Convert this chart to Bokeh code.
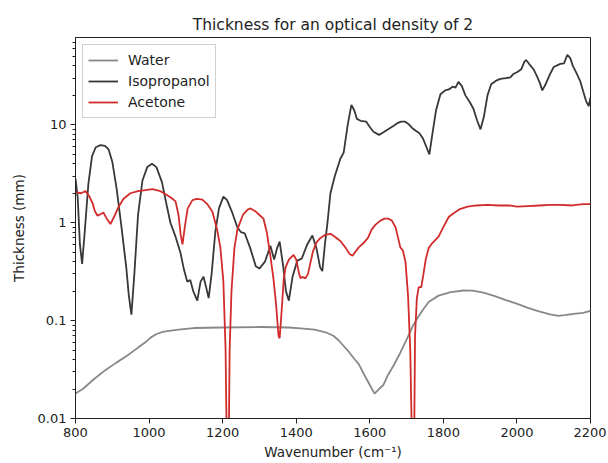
from bokeh.plotting import figure
from bokeh.models import Range1d, FixedTicker, CustomJSTickFormatter, Legend, LegendItem
from bokeh.embed import file_html
from bokeh.resources import INLINE

# ---- data ----
iso_x = [800, 806, 812, 818, 825, 835, 845, 855, 868, 880, 890, 900, 912, 925, 938, 945, 952, 960, 970, 982,
         995, 1008, 1020, 1035, 1048, 1058, 1072, 1085, 1095, 1104, 1112, 1120, 1131, 1140, 1148, 1155, 1162,
         1170, 1180, 1190, 1202, 1212, 1225, 1240, 1250, 1260, 1275, 1290, 1300, 1315, 1330, 1340, 1348, 1355,
         1365, 1372, 1380, 1390, 1403, 1415, 1430, 1444, 1455, 1465, 1471, 1478, 1485, 1493, 1505, 1520, 1529,
         1540, 1550, 1558, 1565, 1575, 1590, 1600, 1610, 1625, 1635, 1650, 1665, 1675, 1685, 1695, 1705, 1715,
         1725, 1735, 1745, 1755, 1762, 1770, 1780, 1792, 1805, 1815, 1825, 1833, 1841, 1850, 1860, 1872, 1882,
         1892, 1901, 1910, 1920, 1930, 1945, 1955, 1970, 1982, 1990, 2000, 2012, 2020, 2025, 2033, 2045, 2055,
         2062, 2069, 2078, 2090, 2100, 2118, 2128, 2137, 2145, 2152, 2160, 2172, 2180, 2188, 2195, 2200]
iso_y = [2.8, 1.8, 0.6, 0.38, 0.8, 2.5, 4.8, 5.9, 6.2, 6.1, 5.6, 4.2, 2.2, 0.9, 0.35, 0.18, 0.115, 0.3, 1.2, 2.7,
         3.7, 4.0, 3.7, 2.6, 1.5, 1.0, 0.72, 0.5, 0.33, 0.25, 0.26, 0.2, 0.16, 0.25, 0.28, 0.22, 0.17,
         0.3, 0.8, 1.4, 1.85, 1.7, 1.3, 0.9, 0.8, 0.78, 0.55, 0.36, 0.34, 0.4, 0.58, 0.42, 0.55, 0.64,
         0.35, 0.2, 0.16, 0.28, 0.41, 0.43, 0.6, 0.74, 0.55, 0.35, 0.32, 0.6, 1.0, 2.0, 3.0, 4.5, 5.2,
         10, 16, 14, 11.5, 11, 10.8, 9.5, 8.5, 7.9, 8.3, 9.0, 9.8, 10.4, 10.8, 10.8, 10.2, 9.3,
         8.7, 8.2, 7.2, 5.8, 5.0, 8, 14, 20.5, 22.5, 23, 24.5, 24, 27.5, 25, 20, 17, 14.5,
         11, 9.0, 12, 20, 26, 28.5, 29.5, 30, 30.5, 33, 34.5, 37, 44, 46, 42, 37, 31,
         27, 22.5, 26, 33, 39, 42, 42.5, 52, 48, 40, 35, 28, 22, 17.5, 15.5, 19]

ace_x = [800, 815, 827, 836, 846, 853, 860, 868, 876, 885, 895, 905, 917, 930, 949, 970, 990, 1009, 1020, 1031,
         1045, 1060, 1072, 1080, 1086, 1091, 1097, 1105, 1118, 1130, 1145, 1158, 1172, 1185, 1194, 1202, 1208,
         1212, 1216, 1219, 1224, 1232, 1240, 1255, 1268, 1276, 1290, 1300, 1311, 1320, 1330, 1338, 1345, 1352,
         1355, 1360, 1366, 1371, 1380, 1393, 1400, 1408, 1412, 1417, 1425, 1432, 1445, 1455, 1466, 1478, 1493,
         1505, 1520, 1535, 1545, 1553, 1560, 1570, 1583, 1595, 1605, 1615, 1629, 1640, 1651, 1660, 1670, 1677,
         1683, 1690, 1697, 1704, 1710, 1716, 1720, 1723, 1728, 1733, 1740, 1746, 1752, 1760, 1770, 1787, 1800,
         1815, 1828, 1845, 1866, 1890, 1920, 1950, 1980, 2000, 2030, 2060, 2091, 2120, 2150, 2180, 2200]
ace_y = [2.05, 2.0, 2.1, 1.9, 1.6, 1.3, 1.18, 1.22, 1.27, 1.1, 0.97, 1.15, 1.45, 1.75, 2.0, 2.1, 2.15, 2.2, 2.15, 2.1,
         1.95, 1.8, 1.65, 1.2, 0.75, 0.6, 0.9, 1.4, 1.7, 1.75, 1.72, 1.55, 1.3, 0.85, 0.55, 0.25, 0.05,
         0.003, 0.003, 0.05, 0.2, 0.55, 0.85, 1.2, 1.36, 1.4, 1.3, 1.2, 1.1, 0.8, 0.45, 0.27, 0.15, 0.07,
         0.066, 0.12, 0.26, 0.35, 0.42, 0.47, 0.42, 0.3, 0.27, 0.28, 0.27, 0.3, 0.5, 0.63, 0.7, 0.75, 0.77,
         0.72, 0.65, 0.55, 0.48, 0.46, 0.5, 0.56, 0.62, 0.7, 0.85, 0.95, 1.05, 1.1, 1.1, 1.05, 0.9, 0.7,
         0.56, 0.52, 0.4, 0.18, 0.05, 0.003, 0.003, 0.07, 0.17, 0.22, 0.22, 0.3, 0.42, 0.55, 0.62, 0.72, 0.9,
         1.15, 1.25, 1.38, 1.46, 1.5, 1.52, 1.5, 1.5, 1.46, 1.48, 1.5, 1.52, 1.52, 1.5, 1.55, 1.55]

wat_x = [800, 820, 849, 880, 910, 941, 970, 990, 1004, 1020, 1040, 1080, 1121, 1200, 1303, 1380, 1420, 1450,
         1480, 1501, 1515, 1529, 1545, 1557, 1570, 1585, 1600, 1613, 1625, 1637, 1650, 1665, 1683, 1700, 1715,
         1730, 1745, 1760, 1787, 1820, 1855, 1880, 1909, 1940, 1970, 2001, 2030, 2060, 2090, 2113, 2130, 2154,
         2180, 2200]
wat_y = [0.018, 0.02, 0.025, 0.031, 0.037, 0.044, 0.053, 0.06, 0.067, 0.073, 0.077, 0.081, 0.084, 0.085, 0.086,
         0.085, 0.083, 0.081, 0.076, 0.07, 0.063, 0.055, 0.047, 0.041, 0.036, 0.028, 0.022, 0.018, 0.02, 0.022,
         0.028, 0.035, 0.047, 0.064, 0.085, 0.107, 0.13, 0.155, 0.18, 0.195, 0.203, 0.202, 0.193, 0.178, 0.162,
         0.148, 0.135, 0.124, 0.116, 0.112, 0.114, 0.117, 0.12, 0.126]

y_ticks = [0.01, 0.1, 1, 10]
x_ticks = [800, 1000, 1200, 1400, 1600, 1800, 2000, 2200]

FONT = "DejaVu Sans"

p = figure(width=606, height=462, output_backend="svg", toolbar_location=None,
           y_axis_type="log", x_range=Range1d(800, 2200), y_range=Range1d(0.01, 78),
           title="Thickness for an optical density of 2",
           min_border_left=75, min_border_right=16, min_border_top=37, min_border_bottom=44)

r_w = p.line(wat_x, wat_y, line_color="#888888", line_width=1.8)
r_i = p.line(iso_x, iso_y, line_color="#383838", line_width=1.8)
r_a = p.line(ace_x, ace_y, line_color="#d22b2b", line_width=1.8)

p.title.align = "center"
p.title.text_font = FONT
p.title.text_font_size = "15.5px"
p.title.text_font_style = "normal"
p.title.text_color = "#222222"
p.title.standoff = 8

p.xgrid.visible = False
p.ygrid.visible = False
p.outline_line_color = "#222222"
p.outline_line_width = 1

minor = []
for d in [0.01, 0.1, 1, 10]:
    for k in range(2, 10):
        if d * k <= 78:
            minor.append(d * k)
p.yaxis.ticker = FixedTicker(ticks=y_ticks, minor_ticks=minor)
p.yaxis.formatter = CustomJSTickFormatter(code="return tick.toString();")
p.xaxis.ticker = FixedTicker(ticks=x_ticks)

for ax in (p.xaxis[0], p.yaxis[0]):
    ax.major_label_text_font = FONT
    ax.major_label_text_font_size = "13px"
    ax.major_label_text_color = "#222222"
    ax.axis_label_text_font = FONT
    ax.axis_label_text_font_size = "13.5px"
    ax.axis_label_text_font_style = "normal"
    ax.axis_label_text_color = "#222222"
    ax.axis_line_color = "#222222"
    ax.major_tick_line_color = "#222222"
    ax.major_tick_in = 0
    ax.major_tick_out = 5
    ax.minor_tick_in = 0
    ax.minor_tick_out = 3
    ax.minor_tick_line_color = "#222222"
    ax.major_label_standoff = 4
p.xaxis.minor_tick_line_color = None
p.xaxis.axis_label = "Wavenumber (cm⁻¹)"
p.yaxis.axis_label = "Thickness (mm)"
p.xaxis.axis_label_standoff = 4
p.yaxis.axis_label_standoff = 8

legend = Legend(items=[LegendItem(label="Water", renderers=[r_w]),
                       LegendItem(label="Isopropanol", renderers=[r_i]),
                       LegendItem(label="Acetone", renderers=[r_a])],
                location="top_left")
legend.label_text_font = FONT
legend.label_text_font_size = "14px"
legend.label_text_color = "#222222"
legend.border_line_color = "#d0d0d0"
legend.border_line_alpha = 1
legend.background_fill_alpha = 0.8
legend.glyph_width = 30
legend.label_standoff = 10
legend.spacing = 1
legend.padding = 5
legend.margin = 7
legend.label_height = 20
legend.glyph_height = 20
p.add_layout(legend)

open("out.html", "w").write(file_html(p, INLINE))
